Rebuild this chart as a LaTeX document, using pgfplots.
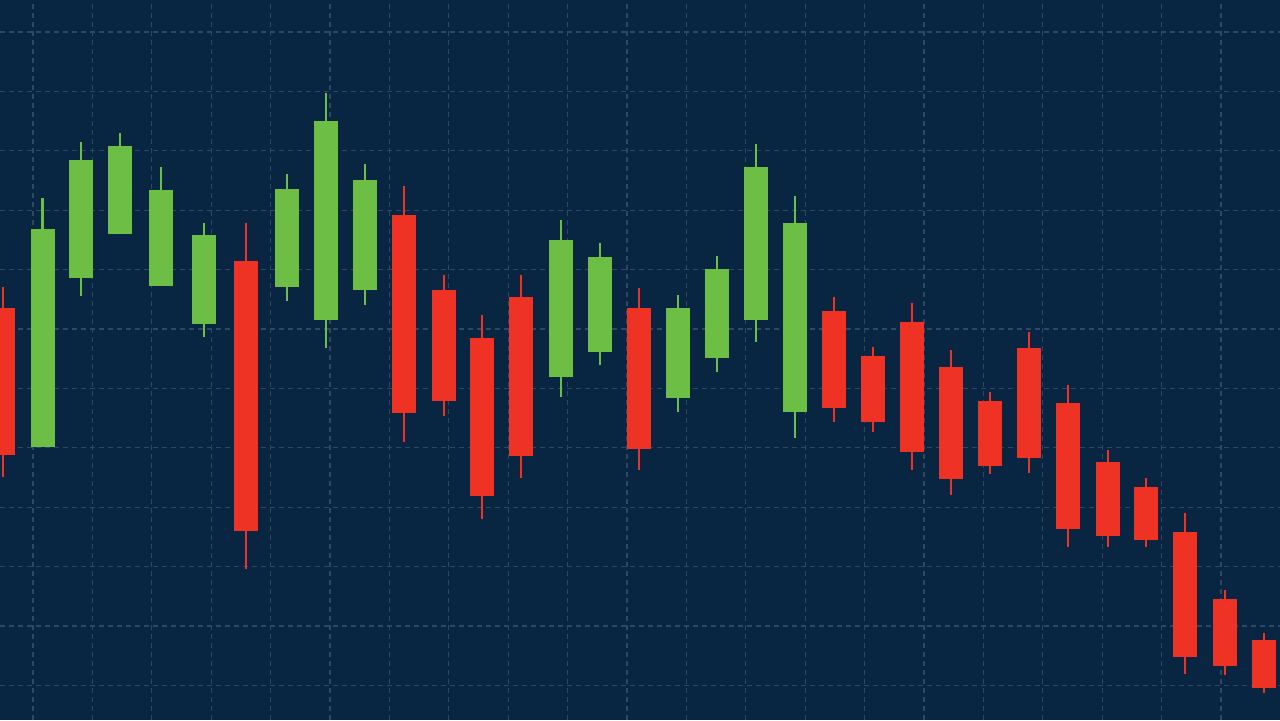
\documentclass[border=0pt]{standalone}
\usepackage{pgfplots}
\usepackage{pgfplotstable}
\pgfplotsset{compat=1.18}
\definecolor{bgnavy}{RGB}{8,37,65}
\definecolor{cgreen}{RGB}{109,190,69}
\definecolor{cred}{RGB}{238,50,36}
\definecolor{cgrid}{RGB}{46,72,100}

% x: candle centre, open, close, high, low (chart units, y up)
\pgfplotstableread{
x     open close high low
42.5  273  491   522  273
81    442  560   578  424
120   486  574   587  486
161   434  530   553  434
204   396  485   497  383
287   433  531   546  419
326   400  599   627  372
365   430  540   556  415
561   343  480   500  323
600   368  463   477  355
678   322  412   425  308
717   362  451   464  348
756   400  553   576  378
795   308  497   524  282
}\upcandles

\pgfplotstableread{
x     open close high low
3     412  265   433  243
246   459  189   497  151
404   505  307   534  278
444   430  319   445  304
482   382  224   405  201
521   423  264   445  242
639   412  271   432  250
834   409  312   423  298
873   364  298   373  288
912   398  268   417  250
951   353  241   370  225
990   319  254   328  246
1029  372  262   388  247
1068  317  191   335  173
1108  258  184   270  173
1146  233  180   242  173
1185  188  63    207  46
1225  121  54    130  45
1264  80   32    87   27
}\downcandles

\begin{document}
\begin{tikzpicture}
\begin{axis}[
  name=ax,
  x=0.5pt, y=0.5pt,
  xmin=0, xmax=1280, ymin=0, ymax=720,
  scale only axis,
  axis line style={draw=none},
  axis background/.style={fill=bgnavy},
  xtick={33,92.4,151.8,211.2,270.6,330,389.4,448.8,508.2,567.6,627,686.4,745.8,805.2,864.6,924,983.4,1042.8,1102.2,1161.6,1221},
  ytick={34.6,94,153.4,212.8,272.2,331.6,391,450.4,509.8,569.2,628.6,688},
  xticklabels={}, yticklabels={},
  major tick length=0pt,
  ticklabel style={inner sep=0pt, outer sep=0pt},
  grid=major,
  grid style={cgrid, line width=0.55pt, dash pattern=on 2.5pt off 2pt},
  candle/.style={only marks, mark size=0pt, mark options={draw=none, fill=none}},
]
% green wicks
\addplot [candle,
  error bars/.cd, y dir=plus, y explicit, error mark=none,
  error bar style={draw=cgreen, line width=1.3pt}]
  table [x=x, y=low, y error plus expr=\thisrow{high}-\thisrow{low}] {\upcandles};
% green bodies
\addplot [candle,
  error bars/.cd, y dir=plus, y explicit, error mark=none,
  error bar style={draw=cgreen, line width=12pt}]
  table [x=x, y=open, y error plus expr=\thisrow{close}-\thisrow{open}] {\upcandles};
% red wicks
\addplot [candle,
  error bars/.cd, y dir=plus, y explicit, error mark=none,
  error bar style={draw=cred, line width=1.3pt}]
  table [x=x, y=low, y error plus expr=\thisrow{high}-\thisrow{low}] {\downcandles};
% red bodies
\addplot [candle,
  error bars/.cd, y dir=plus, y explicit, error mark=none,
  error bar style={draw=cred, line width=12pt}]
  table [x=x, y=close, y error plus expr=\thisrow{open}-\thisrow{close}] {\downcandles};
\end{axis}
\pgfresetboundingbox
\path[use as bounding box] (ax.south west) rectangle (ax.north east);
\end{tikzpicture}
\end{document}
